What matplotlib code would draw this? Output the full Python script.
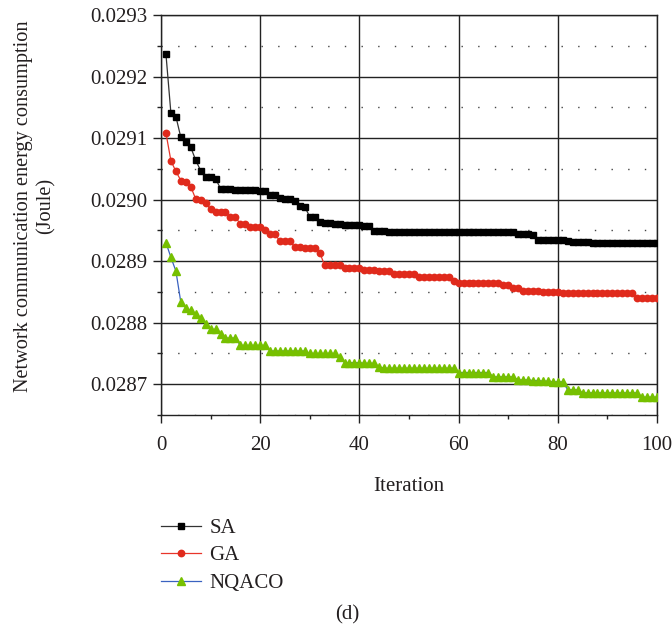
import matplotlib
matplotlib.use('Agg')
import matplotlib.pyplot as plt
from matplotlib.ticker import MultipleLocator, FormatStrFormatter

plt.rcParams['font.family'] = ['Liberation Serif', 'DejaVu Serif']

# Iteration index and the three algorithms' energy values (Joule)
iterations = list(range(1, 101))

sa = [0.029236, 0.029140, 0.029135, 0.029101, 0.029094, 0.029085, 0.029064, 0.029047, 0.029037, 0.029036,
      0.029034, 0.029018, 0.029017, 0.029017, 0.029016, 0.029016, 0.029015, 0.029015, 0.029015, 0.029014,
      0.029014, 0.029008, 0.029007, 0.029002, 0.029001, 0.029001, 0.028997, 0.028989, 0.028988, 0.028972,
      0.028971, 0.028963, 0.028962, 0.028962, 0.028960, 0.028960, 0.028959, 0.028959, 0.028959, 0.028958,
      0.028957, 0.028957, 0.028949, 0.028949, 0.028949, 0.028948, 0.028948, 0.028948, 0.028948, 0.028948,
      0.028948, 0.028948, 0.028948, 0.028948, 0.028948, 0.028947, 0.028947, 0.028947, 0.028947, 0.028947,
      0.028947, 0.028947, 0.028947, 0.028947, 0.028947, 0.028947, 0.028947, 0.028947, 0.028947, 0.028947,
      0.028947, 0.028944, 0.028944, 0.028944, 0.028942, 0.028935, 0.028935, 0.028935, 0.028935, 0.028935,
      0.028935, 0.028932, 0.028931, 0.028931, 0.028931, 0.028931, 0.028930, 0.028930, 0.028930, 0.028930,
      0.028929, 0.028929, 0.028929, 0.028929, 0.028929, 0.028929, 0.028929, 0.028929, 0.028929, 0.028929]

ga = [0.029108, 0.029063, 0.029046, 0.029031, 0.029028, 0.029021, 0.029001, 0.028999, 0.028995, 0.028984,
      0.028980, 0.028980, 0.028980, 0.028972, 0.028972, 0.028960, 0.028960, 0.028956, 0.028956, 0.028956,
      0.028951, 0.028944, 0.028944, 0.028932, 0.028932, 0.028932, 0.028923, 0.028923, 0.028922, 0.028922,
      0.028922, 0.028914, 0.028893, 0.028893, 0.028893, 0.028893, 0.028889, 0.028889, 0.028889, 0.028889,
      0.028885, 0.028885, 0.028885, 0.028884, 0.028884, 0.028884, 0.028879, 0.028879, 0.028879, 0.028879,
      0.028879, 0.028875, 0.028875, 0.028875, 0.028875, 0.028875, 0.028875, 0.028875, 0.028868, 0.028865,
      0.028865, 0.028865, 0.028865, 0.028865, 0.028865, 0.028865, 0.028865, 0.028865, 0.028862, 0.028862,
      0.028857, 0.028857, 0.028852, 0.028851, 0.028851, 0.028851, 0.028850, 0.028850, 0.028850, 0.028850,
      0.028849, 0.028849, 0.028849, 0.028849, 0.028849, 0.028849, 0.028849, 0.028849, 0.028849, 0.028849,
      0.028849, 0.028849, 0.028849, 0.028849, 0.028849, 0.028840, 0.028840, 0.028840, 0.028840, 0.028840]

nqaco = [0.028930, 0.028906, 0.028884, 0.028833, 0.028824, 0.028820, 0.028814, 0.028808, 0.028798, 0.028789,
         0.028789, 0.028781, 0.028775, 0.028775, 0.028775, 0.028763, 0.028763, 0.028763, 0.028763, 0.028763,
         0.028763, 0.028754, 0.028754, 0.028754, 0.028754, 0.028754, 0.028754, 0.028754, 0.028754, 0.028750,
         0.028750, 0.028750, 0.028750, 0.028750, 0.028750, 0.028744, 0.028735, 0.028735, 0.028735, 0.028735,
         0.028734, 0.028734, 0.028734, 0.028728, 0.028726, 0.028726, 0.028726, 0.028726, 0.028726, 0.028726,
         0.028726, 0.028726, 0.028726, 0.028726, 0.028726, 0.028726, 0.028726, 0.028726, 0.028726, 0.028719,
         0.028719, 0.028719, 0.028719, 0.028719, 0.028719, 0.028719, 0.028712, 0.028712, 0.028712, 0.028712,
         0.028712, 0.028707, 0.028707, 0.028707, 0.028706, 0.028706, 0.028705, 0.028705, 0.028704, 0.028704,
         0.028704, 0.028691, 0.028691, 0.028691, 0.028686, 0.028686, 0.028686, 0.028686, 0.028686, 0.028686,
         0.028686, 0.028686, 0.028686, 0.028686, 0.028686, 0.028686, 0.028679, 0.028679, 0.028679, 0.028679]

text_col = '#231f20'
fs = 15

fig = plt.figure(figsize=(6.72, 6.31), dpi=100)
ax = fig.add_axes([0.2396, 0.3423, 0.7381, 0.6339])

ax.plot(iterations, sa, color='#333333', lw=0.9, marker='s', ms=4.4,
        mfc='black', mec='black', label='SA', zorder=5)
ax.plot(iterations, ga, color='#e8352a', lw=0.9, marker='o', ms=4.6,
        mfc='#e02a1c', mec='#e02a1c', label='GA', zorder=4)
ax.plot(iterations, nqaco, color='#3a62c0', lw=0.9, marker='^', ms=5.4,
        mfc='#76c000', mec='#76c000', label='NQACO', zorder=3)

ax.set_xlim(0, 100)
ax.set_ylim(0.02865, 0.0293)
ax.xaxis.set_major_locator(MultipleLocator(20))
ax.xaxis.set_minor_locator(MultipleLocator(10))
ax.yaxis.set_major_locator(MultipleLocator(0.0001))
ax.yaxis.set_minor_locator(MultipleLocator(0.00005))
ax.yaxis.set_major_formatter(FormatStrFormatter('%.4f'))

ax.grid(which='major', color='#222222', lw=1.0)
ax.grid(which='minor', axis='y', color='#444444', lw=1.0, linestyle=(0, (1, 11)))
ax.set_axisbelow(True)

for s in ax.spines.values():
    s.set_color('#222222')
    s.set_linewidth(1.0)

ax.tick_params(which='major', direction='out', length=6, width=1, colors='#222222',
               labelsize=fs, labelcolor=text_col, pad=4)
ax.tick_params(which='minor', direction='out', length=3, width=1, colors='#222222')
ax.tick_params(axis='x', pad=9)

ax.set_xlabel('Iteration', fontsize=fs, color=text_col)
ax.xaxis.set_label_coords(0.5, -0.155)
ax.set_ylabel('Network communication energy consumption\n(Joule)', fontsize=14.6,
              color=text_col, linespacing=1.2)
ax.yaxis.set_label_coords(-0.213, 0.522)

fig.legend(loc='upper left', bbox_to_anchor=(0.2245, 0.195), frameon=False,
           fontsize=fs, handlelength=1.9, handletextpad=0.4, labelspacing=0.38,
           borderpad=0, labelcolor=text_col)

fig.text(0.516, 0.026, '(d)', ha='center', va='center', fontsize=fs, color=text_col)

fig.savefig('out.png', dpi=100)
